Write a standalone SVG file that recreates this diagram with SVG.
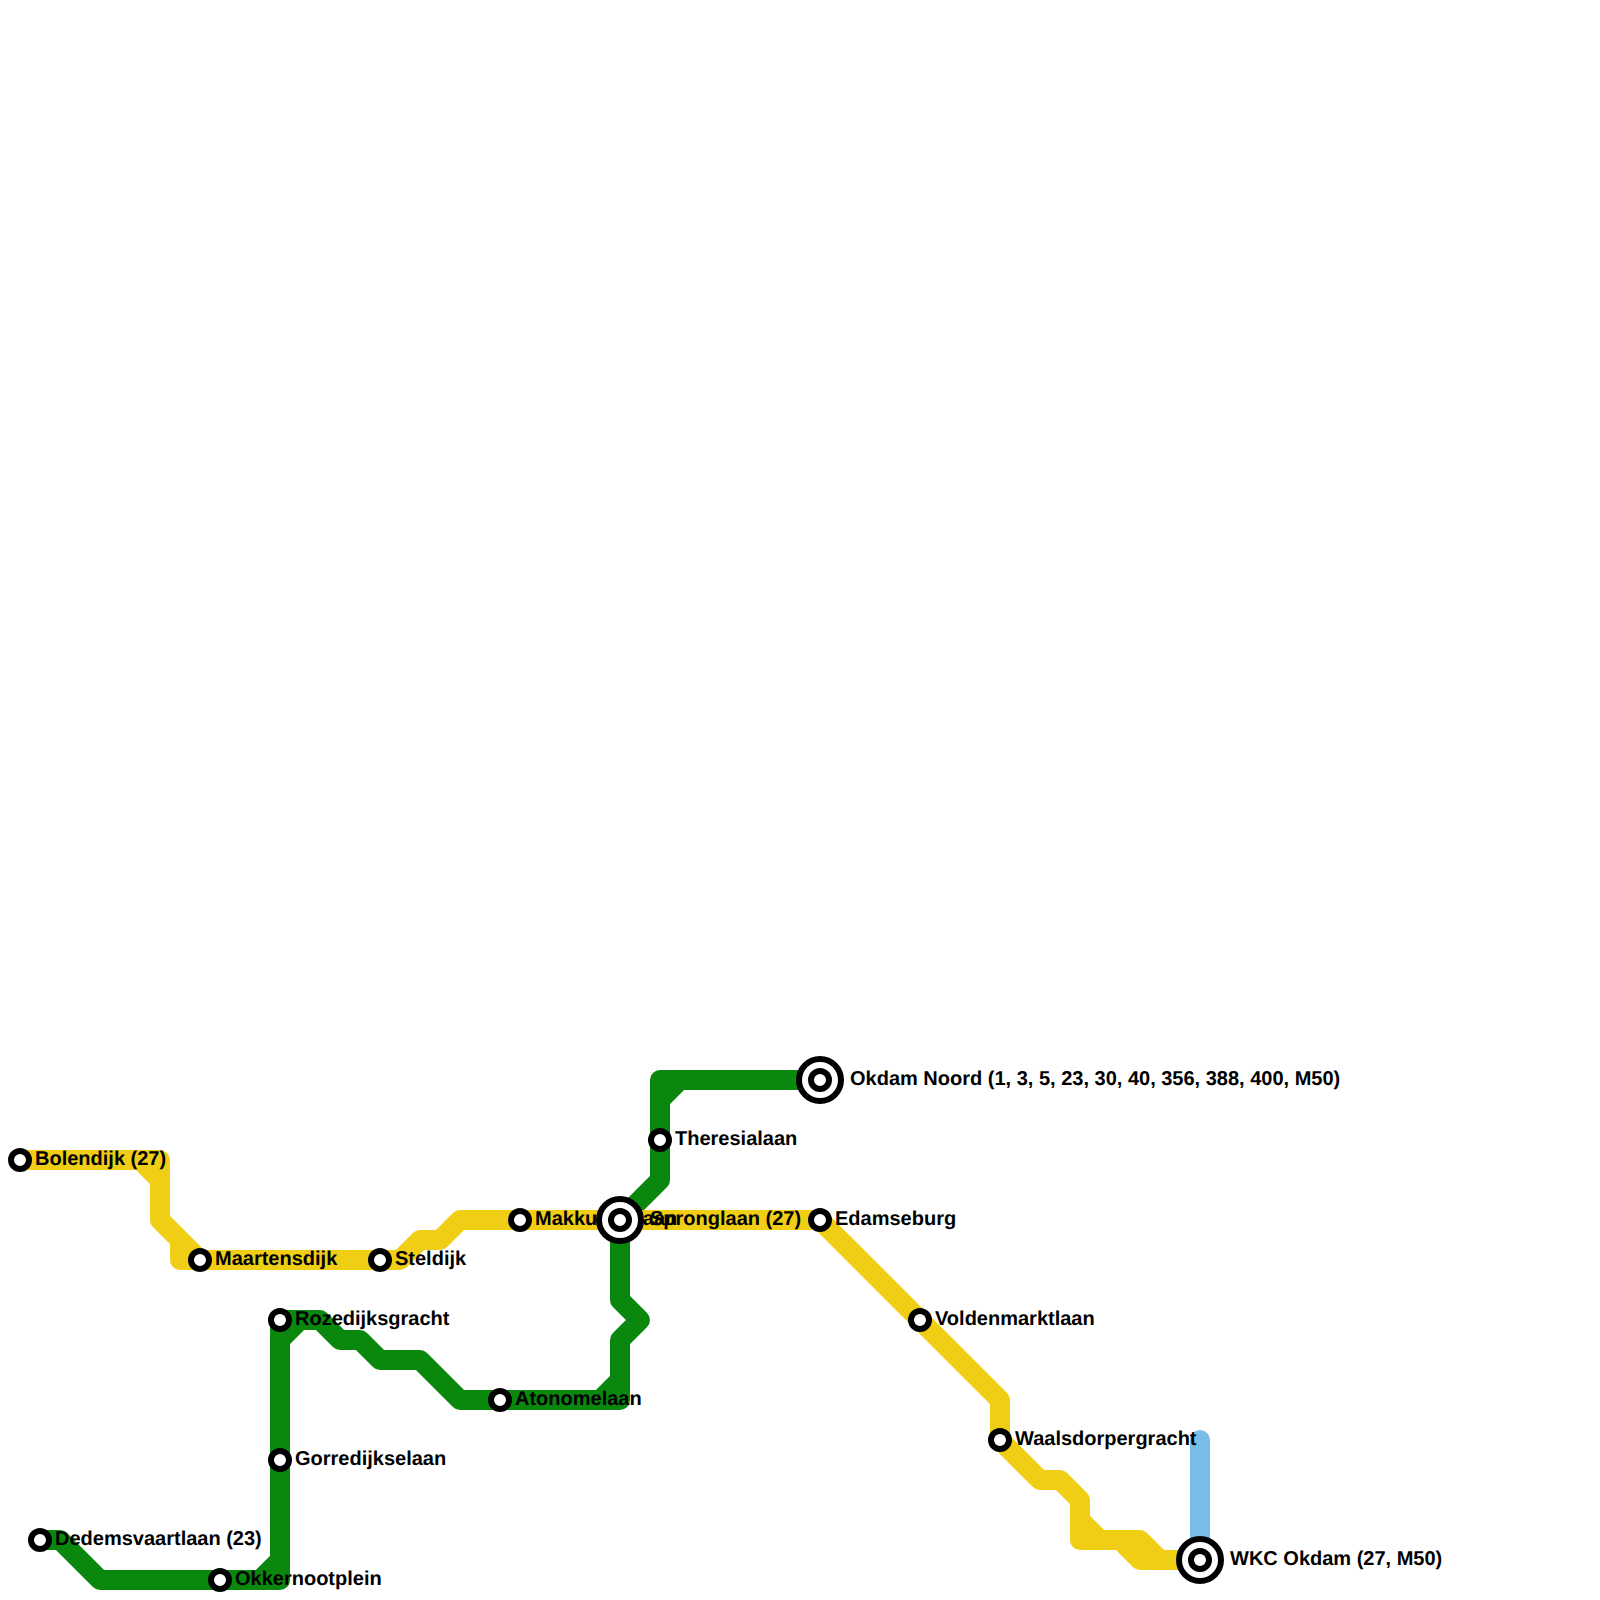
<svg xmlns="http://www.w3.org/2000/svg" width="1600" height="1600" viewBox="0 0 1600 1600">
<style>
.l{fill:none;stroke-width:20;stroke-linejoin:round;stroke-linecap:butt}
.y{stroke:#f0ce15}.g{stroke:#0a870d}.b{stroke:#79bde9}
.s{fill:#fff;stroke:#000;stroke-width:6}
.o{fill:#fff;stroke:#000;stroke-width:6}
text{font-family:"Liberation Sans",Arial,sans-serif;font-weight:700;font-size:20px;fill:#000;text-rendering:geometricPrecision}
</style>
<rect width="1600" height="1600" fill="#fff"/>
<g id="connectors">
<path class="l b" d="M1200 1440V1560" style="stroke-linecap:round"/>
<path class="l g" d="M40 1540H60L100 1580H280V1320H320L340 1340H360L380 1360H420L460 1400H620V1340L640 1320L620 1300V1220L660 1180V1080H820M260 1580L280 1560M280 1340L300 1320M600 1400L620 1380M660 1100L680 1080"/>
<path class="l y" d="M20 1160H160V1220L200 1260M140 1160L160 1180M180 1240V1260H400L420 1240H440L460 1220H820L1000 1400V1440L1040 1480H1060L1080 1500V1540H1120L1140 1560H1200M1080 1520L1100 1540H1140L1160 1560"/>
</g>
<g id="label-dedemsvaartlaan"><text x="55" y="1545">Dedemsvaartlaan (23)</text></g>
<g id="n-bolendijk"><circle class="s" cx="20" cy="1160" r="9"/><text x="35" y="1165">Bolendijk (27)</text></g>
<g id="n-maartensdijk"><circle class="s" cx="200" cy="1260" r="9"/><text x="215" y="1265">Maartensdijk</text></g>
<g id="n-steldijk"><circle class="s" cx="380" cy="1260" r="9"/><text x="395" y="1265">Steldijk</text></g>
<g id="n-makkum"><text x="535" y="1225">Makkumselaan</text><circle class="s" cx="520" cy="1220" r="9"/></g>
<g id="n-spronglaan"><circle class="o" cx="620" cy="1220" r="21"/><circle class="s" cx="620" cy="1220" r="9"/><text x="650" y="1225">Spronglaan (27)</text></g>
<g id="n-edamseburg"><circle class="s" cx="820" cy="1220" r="9"/><text x="835" y="1225">Edamseburg</text></g>
<g id="n-okdam-noord"><circle class="o" cx="820" cy="1080" r="21"/><circle class="s" cx="820" cy="1080" r="9"/><text x="850" y="1085">Okdam Noord (1, 3, 5, 23, 30, 40, 356, 388, 400, M50)</text></g>
<g id="n-theresialaan"><circle class="s" cx="660" cy="1140" r="9"/><text x="675" y="1145">Theresialaan</text></g>
<g id="n-rozedijksgracht"><circle class="s" cx="280" cy="1320" r="9"/><text x="295" y="1325">Rozedijksgracht</text></g>
<g id="n-gorredijkselaan"><circle class="s" cx="280" cy="1460" r="9"/><text x="295" y="1465">Gorredijkselaan</text></g>
<g id="n-okkernootplein"><circle class="s" cx="220" cy="1580" r="9"/><text x="235" y="1585">Okkernootplein</text></g>
<g id="n-dedemsvaartlaan"><circle class="s" cx="40" cy="1540" r="9"/></g>
<g id="n-atonomelaan"><circle class="s" cx="500" cy="1400" r="9"/><text x="515" y="1405">Atonomelaan</text></g>
<g id="n-voldenmarktlaan"><circle class="s" cx="920" cy="1320" r="9"/><text x="935" y="1325">Voldenmarktlaan</text></g>
<g id="n-waalsdorpergracht"><circle class="s" cx="1000" cy="1440" r="9"/><text x="1015" y="1445">Waalsdorpergracht</text></g>
<g id="n-wkc"><circle class="o" cx="1200" cy="1560" r="21"/><circle class="s" cx="1200" cy="1560" r="9"/><text x="1230" y="1565">WKC Okdam (27, M50)</text></g>
</svg>
